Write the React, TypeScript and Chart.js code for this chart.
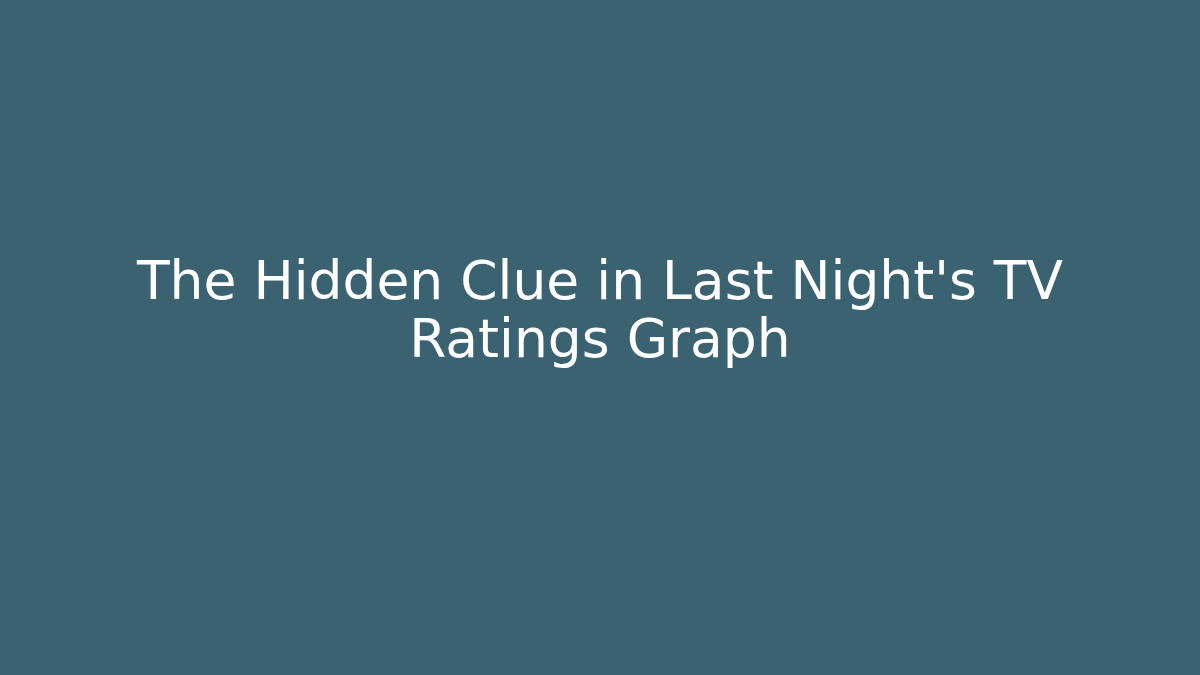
import React, { useEffect, useRef } from "react";
import { Chart, registerables } from "chart.js";

Chart.register(...registerables);

// the picture is only a title card: no series are drawn
const titleLines = ["The Hidden Clue in Last Night's TV", "Ratings Graph"];
const categories: string[] = [];
const ratings: number[] = [];

const bgColor = "#3a6270";

const App: React.FC = () => {
  const canvasRef = useRef<HTMLCanvasElement | null>(null);
  const chartRef = useRef<Chart | null>(null);

  useEffect(() => {
    document.body.style.margin = "0";
    const ctx = canvasRef.current?.getContext("2d");
    if (!ctx) return;
    if (chartRef.current) chartRef.current.destroy();

    chartRef.current = new Chart(ctx, {
      type: "bar",
      data: {
        labels: categories,
        datasets: [{ label: "Ratings", data: ratings }],
      },
      options: {
        animation: false,
        responsive: false,
        layout: { padding: 0 },
        scales: {
          x: { display: false },
          y: { display: false },
        },
        plugins: {
          legend: { display: false },
          tooltip: { enabled: false },
          title: {
            display: true,
            text: titleLines,
            color: "#ffffff",
            font: { family: "DejaVu Sans", size: 53.5, weight: "normal", lineHeight: 1.085 },
            padding: { top: 256, bottom: 0 },
          },
        },
      },
      plugins: [
        {
          id: "bg",
          beforeDraw: (chart) => {
            const c = chart.ctx;
            c.save();
            c.fillStyle = bgColor;
            c.fillRect(0, 0, chart.width, chart.height);
            c.restore();
          },
        },
      ],
    });

    return () => {
      if (chartRef.current) {
        chartRef.current.destroy();
        chartRef.current = null;
      }
    };
  }, []);

  return (
    <div style={{ width: 1200, height: 675, background: bgColor }}>
      <canvas ref={canvasRef} width={1200} height={675}></canvas>
    </div>
  );
};

export default App;
